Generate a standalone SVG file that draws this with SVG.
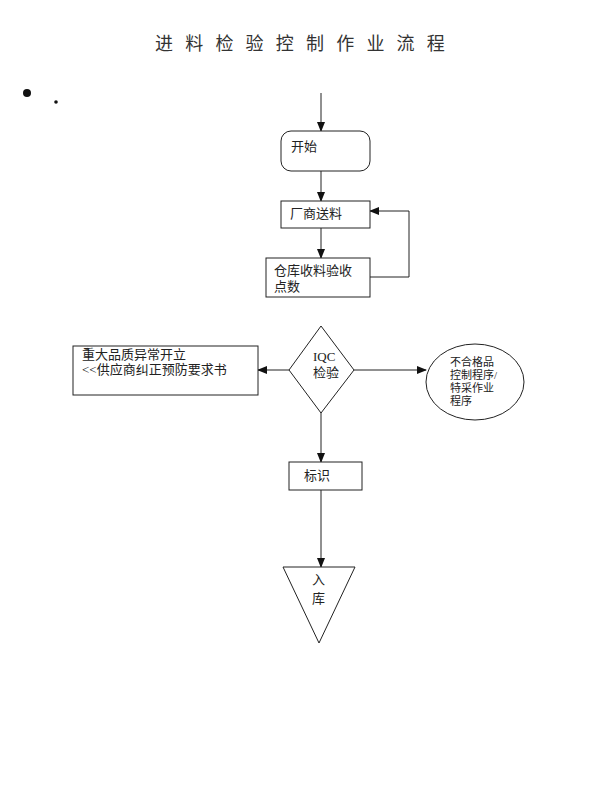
<svg xmlns="http://www.w3.org/2000/svg" width="600" height="799" viewBox="0 0 600 799">
<style>
.t{font-family:"Liberation Serif","Noto Sans CJK SC",serif;font-size:13px;fill:#222}
.s{font-family:"Liberation Serif","Noto Sans CJK SC",serif;font-size:11px;fill:#222}
.shape{fill:#fff;stroke:#222;stroke-width:1}
.ln{fill:none;stroke:#222;stroke-width:1}
</style>
<defs>
<marker id="ah" markerWidth="10" markerHeight="8" refX="9" refY="4" orient="auto" markerUnits="userSpaceOnUse">
<path d="M0,0 L10,4 L0,8 Z" fill="#111"/>
</marker>
</defs>
<rect width="600" height="799" fill="#fff"/>
<text x="155" y="50" style="font-family:'Noto Sans CJK SC',sans-serif;font-size:18px;fill:#333;letter-spacing:12.2px">进料检验控制作业流程</text>
<circle cx="27" cy="93" r="4" fill="#111"/>
<circle cx="56" cy="102" r="1.8" fill="#111"/>
<g id="connectors">
<line class="ln" x1="321" y1="93" x2="321" y2="131" marker-end="url(#ah)"/>
<line class="ln" x1="321" y1="171" x2="321" y2="201" marker-end="url(#ah)"/>
<line class="ln" x1="321" y1="228" x2="321" y2="258" marker-end="url(#ah)"/>
<polyline class="ln" points="370,277 409,277 409,211 370,211" marker-end="url(#ah)"/>
<line class="ln" x1="289" y1="370" x2="258" y2="370" marker-end="url(#ah)"/>
<line class="ln" x1="354" y1="370" x2="426" y2="370" marker-end="url(#ah)"/>
<line class="ln" x1="321" y1="412" x2="321" y2="462" marker-end="url(#ah)"/>
<line class="ln" x1="321" y1="490" x2="321" y2="567" marker-end="url(#ah)"/>
</g>
<g id="start">
<rect class="shape" x="281" y="131" width="89" height="40" rx="10"/>
<text class="t" x="291" y="151">开始</text>
</g>
<g id="supplier">
<rect class="shape" x="281" y="201" width="89" height="27"/>
<text class="t" x="290" y="218">厂商送料</text>
</g>
<g id="receive">
<rect class="shape" x="266" y="258" width="104" height="39"/>
<text class="t" x="274" y="275">仓库收料验收</text>
<text class="t" x="274" y="291">点数</text>
</g>
<g id="iqc">
<polygon class="shape" points="321,326 354,370 321,413 289,370"/>
<text class="t" x="313" y="361">IQC</text>
<text class="t" x="313" y="377">检验</text>
</g>
<g id="major">
<rect class="shape" x="73" y="346" width="185" height="49"/>
<text class="t" x="82" y="359">重大品质异常开立</text>
<text class="t" x="82" y="374">&lt;&lt;供应商纠正预防要求书</text>
</g>
<g id="nonconform">
<ellipse class="shape" cx="475" cy="382" rx="49" ry="38"/>
<text class="s" x="450" y="366">不合格品</text>
<text class="s" x="450" y="379">控制程序/</text>
<text class="s" x="450" y="392">特采作业</text>
<text class="s" x="450" y="405">程序</text>
</g>
<g id="mark">
<rect class="shape" x="289" y="462" width="73" height="28"/>
<text class="t" x="304" y="480">标识</text>
</g>
<g id="store">
<polygon class="shape" points="283,567 355,567 319,643"/>
<text class="t" x="312" y="584">入</text>
<text class="t" x="312" y="603">库</text>
</g>
</svg>
